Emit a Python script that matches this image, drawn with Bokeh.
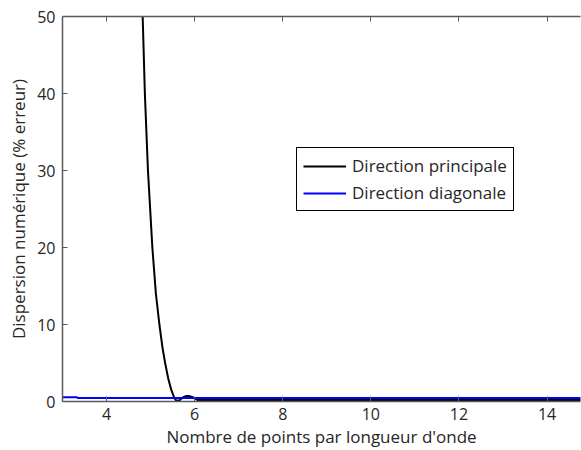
from bokeh.plotting import figure
from bokeh.models import LinearAxis, FixedTicker, Range1d, Legend, LegendItem
from bokeh.embed import file_html
from bokeh.resources import INLINE

# Data
principale_x = [4.78, 4.82, 4.87, 4.94, 5.04, 5.12, 5.20, 5.27, 5.33, 5.40, 5.47, 5.53, 5.58,
                5.66, 5.72, 5.80, 5.88, 5.96, 6.03, 6.07, 6.3, 8.0, 10.0, 12.0, 14.0, 15.0]
principale_y = [55.0, 50.0, 40.0, 30.0, 20.0, 14.0, 10.0, 7.0, 5.0, 3.0, 1.5, 0.6, 0.1,
                0.15, 0.5, 0.7, 0.7, 0.55, 0.3, 0.2, 0.2, 0.2, 0.2, 0.2, 0.2, 0.2]
diagonale_x = [3.0, 3.33, 3.34, 6.0, 8.0, 10.0, 12.0, 14.0, 15.0]
diagonale_y = [0.55, 0.55, 0.47, 0.47, 0.47, 0.47, 0.47, 0.47, 0.47]

x_ticks = [4, 6, 8, 10, 12, 14]
y_ticks = [0, 10, 20, 30, 40, 50]

FONT = "Open Sans"
AX = "#5a5a5a"
TXT = "#262626"

p = figure(width=581, height=450, output_backend="svg", toolbar_location=None,
           x_range=Range1d(3, 14.76), y_range=Range1d(0, 50),
           min_border_left=62, min_border_top=16, min_border_bottom=48, min_border_right=1,
           x_axis_label="Nombre de points par longueur d'onde",
           y_axis_label="Dispersion numérique (% erreur)")
p.outline_line_color = None
p.grid.visible = False
p.background_fill_color = "white"
p.border_fill_color = "white"

for ax, ticks in ((p.xaxis[0], x_ticks), (p.yaxis[0], y_ticks)):
    ax.ticker = FixedTicker(ticks=ticks)
    ax.major_tick_in = 5
    ax.major_tick_out = 0
    ax.minor_tick_line_color = None
    ax.axis_line_color = AX
    ax.major_tick_line_color = AX
    ax.axis_line_width = 1.5
    ax.major_label_text_font = FONT
    ax.major_label_text_font_size = "16px"
    ax.major_label_text_color = TXT
    ax.axis_label_text_font = FONT
    ax.axis_label_text_font_size = "17px"
    ax.axis_label_text_font_style = "normal"
    ax.axis_label_text_color = TXT

p.xaxis.major_label_standoff = 6
p.xaxis.axis_label_standoff = 2
p.yaxis.major_label_standoff = 7
p.yaxis.axis_label_standoff = 4

top = LinearAxis(ticker=FixedTicker(ticks=x_ticks),
                 major_label_overrides={t: "" for t in x_ticks},
                 major_tick_in=5, major_tick_out=0, minor_tick_line_color=None,
                 axis_line_color=AX, major_tick_line_color=AX, axis_line_width=1.5)
p.add_layout(top, "above")

r1 = p.line(principale_x, principale_y, line_color="black", line_width=2)
r2 = p.line(diagonale_x, diagonale_y, line_color="#0000ff", line_width=2)

legend = Legend(items=[LegendItem(label="Direction principale", renderers=[r1]),
                       LegendItem(label="Direction diagonale", renderers=[r2])],
                location=(234, 190), border_line_color="black", border_line_width=1,
                border_line_alpha=1,
                label_text_font=FONT, label_text_font_size="17px", label_text_color=TXT,
                glyph_width=43, glyph_height=22, label_height=22, label_standoff=6,
                spacing=4, padding=6, margin=0, background_fill_alpha=1)
p.add_layout(legend, "center")

open("out.html", "w").write(file_html(p, INLINE))
